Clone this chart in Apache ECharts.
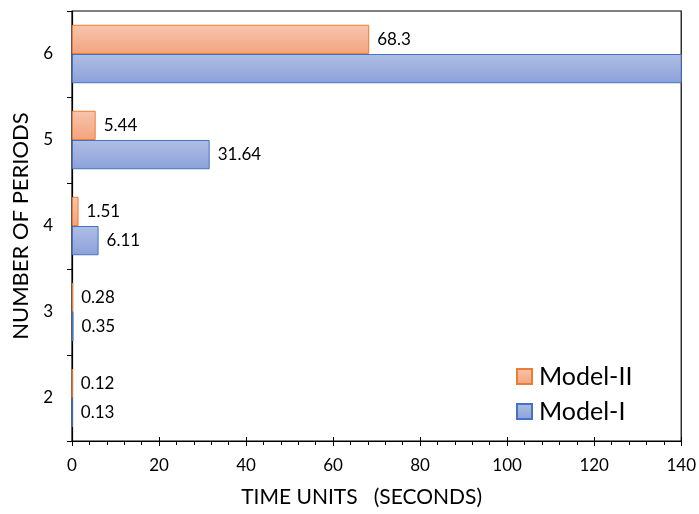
<!DOCTYPE html>
<html><head><meta charset="utf-8">
<script src="https://cdn.jsdelivr.net/npm/echarts@6/dist/echarts.min.js"></script>
<style>html,body{margin:0;padding:0;background:#fff}#c{width:699px;height:514px}</style>
</head><body><div id="c"></div>
<script>
const categories = ['2', '3', '4', '5', '6'];
const modelI = [0.13, 0.35, 6.11, 31.64, 250];
const modelII = [0.12, 0.28, 1.51, 5.44, 68.3];
const xTicks = [0, 20, 40, 60, 80, 100, 120, 140];

const X_MAX = xTicks[xTicks.length - 1];
const FONT = 'Lato';

function items(arr) {
  return arr.map(v => v > X_MAX ? { value: v, label: { show: false } } : v);
}
function grad(top, bottom) {
  return new echarts.graphic.LinearGradient(0, 0, 0, 1, [
    { offset: 0, color: top }, { offset: 1, color: bottom }
  ]);
}
const chart = echarts.init(document.getElementById('c'));
chart.setOption({
  animation: false,
  textStyle: { fontFamily: FONT, color: '#000' },
  grid: { left: 72, right: 16, top: 11, bottom: 73, show: true, borderColor: '#000', borderWidth: 1.2, containLabel: false },
  legend: {
    orient: 'vertical', left: 511, top: 359, itemWidth: 15, itemHeight: 15, itemGap: 10, icon: 'rect',
    data: ['Model-II', 'Model-I'],
    textStyle: { fontSize: 25, fontFamily: FONT, color: '#000', padding: [0, 0, 0, 2] }
  },
  xAxis: [{
    type: 'value', min: 0, max: X_MAX, interval: 20,
    name: 'TIME UNITS   (SECONDS)', nameLocation: 'middle', nameGap: 46,
    nameTextStyle: { fontSize: 21, color: '#000', fontFamily: FONT, padding: [0, 30, 0, 0] },
    axisLine: { show: true, lineStyle: { color: '#000', width: 1.2 } },
    axisTick: { show: true, length: 5, lineStyle: { color: '#000' } },
    minorTick: { show: true, splitNumber: 5, length: 4, lineStyle: { color: '#000' } },
    splitLine: { show: false },
    axisLabel: { fontSize: 17, color: '#000', margin: 16, fontFamily: FONT }
  }, {
    type: 'value', min: 0, max: X_MAX, interval: 20, position: 'bottom',
    axisLine: { show: false }, axisLabel: { show: false }, splitLine: { show: false },
    axisTick: { show: true, inside: true, length: 4, lineStyle: { color: '#000' } }
  }],
  yAxis: {
    type: 'category', data: categories,
    name: 'NUMBER OF PERIODS', nameLocation: 'middle', nameGap: 40,
    nameTextStyle: { fontSize: 22, color: '#000', fontFamily: FONT },
    axisLine: { show: true, lineStyle: { color: '#000', width: 1.2 } },
    axisTick: { show: true, length: 5, lineStyle: { color: '#000' } },
    axisLabel: { fontSize: 17, color: '#000', margin: 19, fontFamily: FONT }
  },
  series: [{
    name: 'Model-II', type: 'bar', data: items(modelII), barGap: '0%', barCategoryGap: '32%',
    itemStyle: { color: grad('#f8c5ad', '#f3a37e'), borderColor: '#ed7d31', borderWidth: 1 },
    label: { show: true, position: 'right', distance: 8, fontSize: 17, color: '#000', fontFamily: FONT }
  }, {
    name: 'Model-I', type: 'bar', data: items(modelI), barGap: '0%', barCategoryGap: '32%',
    itemStyle: { color: grad('#b0bee5', '#8ba1d8'), borderColor: '#4472c4', borderWidth: 1 },
    label: { show: true, position: 'right', distance: 8, fontSize: 17, color: '#000', fontFamily: FONT }
  }]
});
</script></body></html>
